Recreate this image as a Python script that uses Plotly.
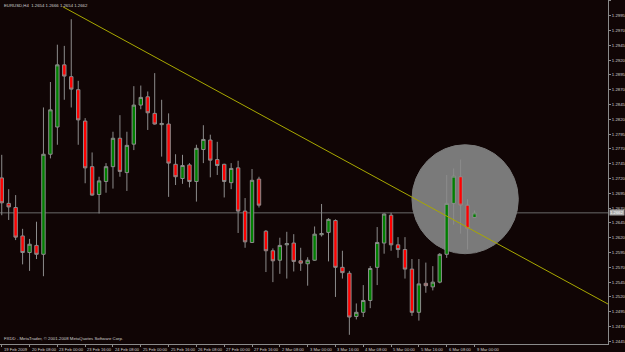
import plotly.graph_objects as go

# ---- data (EURUSD, H4) ----
opens = [1.2721, 1.2678, 1.2671, 1.2623, 1.2595, 1.2607, 1.2592, 1.2761, 1.2807, 1.2912,
         1.2892, 1.2870, 1.2817, 1.2740, 1.2693, 1.2715, 1.2740, 1.2788, 1.2730, 1.2778,
         1.2844, 1.2858, 1.2830, 1.2811, 1.2812, 1.2744, 1.2720, 1.2743, 1.2715, 1.2769,
         1.2785, 1.2752, 1.2744, 1.2713, 1.2738, 1.2665, 1.2612, 1.2719, 1.2631, 1.2598,
         1.2582, 1.2608, 1.2611, 1.2581, 1.2576, 1.2582, 1.2625, 1.2629, 1.2649, 1.2570,
         1.2560, 1.2487, 1.2494, 1.2514, 1.2570, 1.2611, 1.2658, 1.2608, 1.2600, 1.2567,
         1.2494, 1.2543, 1.2537, 1.2545, 1.2592, 1.2678, 1.2723, 1.2675, 1.2654]
highs = [1.2760, 1.2702, 1.2692, 1.2635, 1.2618, 1.2647, 1.2840, 1.2883, 1.2946, 1.2944,
         1.2989, 1.2885, 1.2822, 1.2764, 1.2723, 1.2746, 1.2799, 1.2827, 1.2799, 1.2876,
         1.2877, 1.2867, 1.2898, 1.2853, 1.2830, 1.2761, 1.2760, 1.2746, 1.2777, 1.2810,
         1.2794, 1.2782, 1.2745, 1.2746, 1.2750, 1.2687, 1.2736, 1.2723, 1.2633, 1.2602,
         1.2620, 1.2630, 1.2626, 1.2603, 1.2587, 1.2639, 1.2677, 1.2653, 1.2651, 1.2598,
         1.2564, 1.2509, 1.2540, 1.2572, 1.2638, 1.2661, 1.2662, 1.2621, 1.2621, 1.2584,
         1.2584, 1.2578, 1.2572, 1.2594, 1.2726, 1.2737, 1.2752, 1.2685, 1.2666]
lows = [1.2658, 1.2650, 1.2616, 1.2575, 1.2564, 1.2584, 1.2555, 1.2754, 1.2777, 1.2853,
        1.2840, 1.2777, 1.2712, 1.2691, 1.2661, 1.2696, 1.2703, 1.2723, 1.2699, 1.2768,
        1.2837, 1.2802, 1.2811, 1.2757, 1.2689, 1.2709, 1.2711, 1.2705, 1.2681, 1.2746,
        1.2722, 1.2726, 1.2688, 1.2702, 1.2628, 1.2603, 1.2611, 1.2671, 1.2562, 1.2545,
        1.2559, 1.2551, 1.2563, 1.2564, 1.2539, 1.2581, 1.2622, 1.2580, 1.2520, 1.2551,
        1.2456, 1.2482, 1.2486, 1.2501, 1.2540, 1.2593, 1.2598, 1.2586, 1.2551, 1.2488,
        1.2480, 1.2527, 1.2531, 1.2543, 1.2586, 1.2642, 1.2627, 1.2600, 1.2654]
closes = [1.2679, 1.2672, 1.2621, 1.2595, 1.2609, 1.2592, 1.2761, 1.2836, 1.2912, 1.2893,
          1.2871, 1.2819, 1.2738, 1.2692, 1.2716, 1.2740, 1.2788, 1.2732, 1.2776, 1.2844,
          1.2857, 1.2831, 1.2812, 1.2813, 1.2746, 1.2723, 1.2742, 1.2715, 1.2771, 1.2786,
          1.2751, 1.2742, 1.2715, 1.2737, 1.2665, 1.2613, 1.2717, 1.2675, 1.2598, 1.2581,
          1.2607, 1.2610, 1.2580, 1.2577, 1.2582, 1.2626, 1.2627, 1.2651, 1.2570, 1.2561,
          1.2486, 1.2494, 1.2514, 1.2568, 1.2612, 1.2660, 1.2608, 1.2600, 1.2567, 1.2494,
          1.2542, 1.2539, 1.2545, 1.2592, 1.2678, 1.2724, 1.2675, 1.2635, 1.2662]

tick_labels = ["19 Feb 2009", "20 Feb 08:00", "23 Feb 00:00", "23 Feb 16:00", "24 Feb 08:00",
               "25 Feb 00:00", "25 Feb 16:00", "26 Feb 08:00", "27 Feb 00:00", "27 Feb 16:00",
               "2 Mar 08:00", "3 Mar 00:00", "3 Mar 16:00", "4 Mar 08:00", "5 Mar 00:00",
               "5 Mar 16:00", "6 Mar 08:00", "9 Mar 00:00"]
tick_bars = [0, 4, 8, 12, 16, 20, 24, 28, 32, 36, 40, 44, 48, 52, 56, 60, 64, 68]

price_ticks = [1.2445, 1.2470, 1.2495, 1.2520, 1.2545, 1.2570, 1.2595, 1.2620, 1.2645,
               1.2670, 1.2695, 1.2720, 1.2745, 1.2770, 1.2795, 1.2820, 1.2845, 1.2870,
               1.2895, 1.2920, 1.2945, 1.2970, 1.2995, 1.3020]

bid_price = 1.2662
title_text = "EURUSD,H4  1.2654 1.2666 1.2654 1.2662"
footer_text = "FXDD - MetaTrader, © 2001-2008 MetaQuotes Software Corp."

trend_x = [8.8, 87.2]
trend_y = [1.3010, 1.2508]

circle_x = [59.0, 74.3]
circle_y = [1.2593, 1.2777]

x_range = [-0.25, 87.2]
y_range = [1.24405, 1.30215]

# ---- figure ----
bars = list(range(len(opens)))
BG = "#100505"
FG = "#d0d0d0"
AXIS = "#8a8a8a"
FONT = "Liberation Sans"

fig = go.Figure()
fig.add_trace(go.Candlestick(
    x=bars, open=opens, high=highs, low=lows, close=closes,
    increasing=dict(line=dict(color="#8c8c8c", width=1), fillcolor="#008000"),
    decreasing=dict(line=dict(color="#8c8c8c", width=1), fillcolor="#ff0000"),
    whiskerwidth=0, showlegend=False, hoverinfo="skip",
))
fig.add_trace(go.Scatter(
    x=trend_x, y=trend_y, mode="lines",
    line=dict(color="#a8a800", width=1), showlegend=False, hoverinfo="skip",
))

fig.add_shape(type="circle", xref="x", yref="y",
              x0=circle_x[0], x1=circle_x[1], y0=circle_y[0], y1=circle_y[1],
              fillcolor="#7a7a7a", line=dict(color="#7a7a7a", width=1), layer="below")
fig.add_shape(type="line", xref="paper", yref="y", x0=0, x1=1, y0=bid_price, y1=bid_price,
              line=dict(color="#6a6a6a", width=1), layer="below")

fig.add_annotation(xref="paper", yref="paper", x=0, y=1, xanchor="left", yanchor="top",
                   xshift=2, yshift=-1, text=title_text, showarrow=False,
                   font=dict(family=FONT, size=4.3, color=FG))
fig.add_annotation(xref="paper", yref="paper", x=0, y=0, xanchor="left", yanchor="bottom",
                   xshift=2, yshift=1, text=footer_text, showarrow=False,
                   font=dict(family=FONT, size=4.3, color=FG))
fig.add_annotation(xref="paper", yref="y", x=1, y=bid_price, xanchor="left", yanchor="middle",
                   xshift=1, text=f"{bid_price:.4f}", showarrow=False, bgcolor="#a8a8a8",
                   borderpad=0, font=dict(family=FONT, size=4.3, color="#ffffff"))

# x tick labels (MetaTrader style: text starts at the tick)
for b, lab in zip(tick_bars, tick_labels):
    fig.add_annotation(xref="x", yref="paper", x=b, y=0, xanchor="left", yanchor="top",
                       xshift=0, yshift=-1, text=lab, showarrow=False,
                       font=dict(family=FONT, size=4.1, color=FG))

fig.update_layout(
    width=625, height=352,
    margin=dict(l=0, r=17, t=0, b=8),
    paper_bgcolor=BG, plot_bgcolor=BG,
    xaxis=dict(range=x_range, rangeslider=dict(visible=False), showgrid=False,
               zeroline=False, tickmode="array", tickvals=tick_bars,
               showticklabels=False,
               ticks="outside", ticklen=2, tickcolor=AXIS, showline=True, linecolor=AXIS,
               linewidth=1, automargin=False),
    yaxis=dict(range=y_range, side="right", showgrid=False, zeroline=False,
               tickmode="array", tickvals=price_ticks, tickformat=".4f",
               ticks="outside", ticklen=2, tickcolor=AXIS, showline=True, mirror=True,
               linecolor=AXIS, linewidth=1, automargin=False,
               tickfont=dict(family=FONT, size=4.3, color=FG)),
    hovermode=False,
)

fig.write_html("out.html")
